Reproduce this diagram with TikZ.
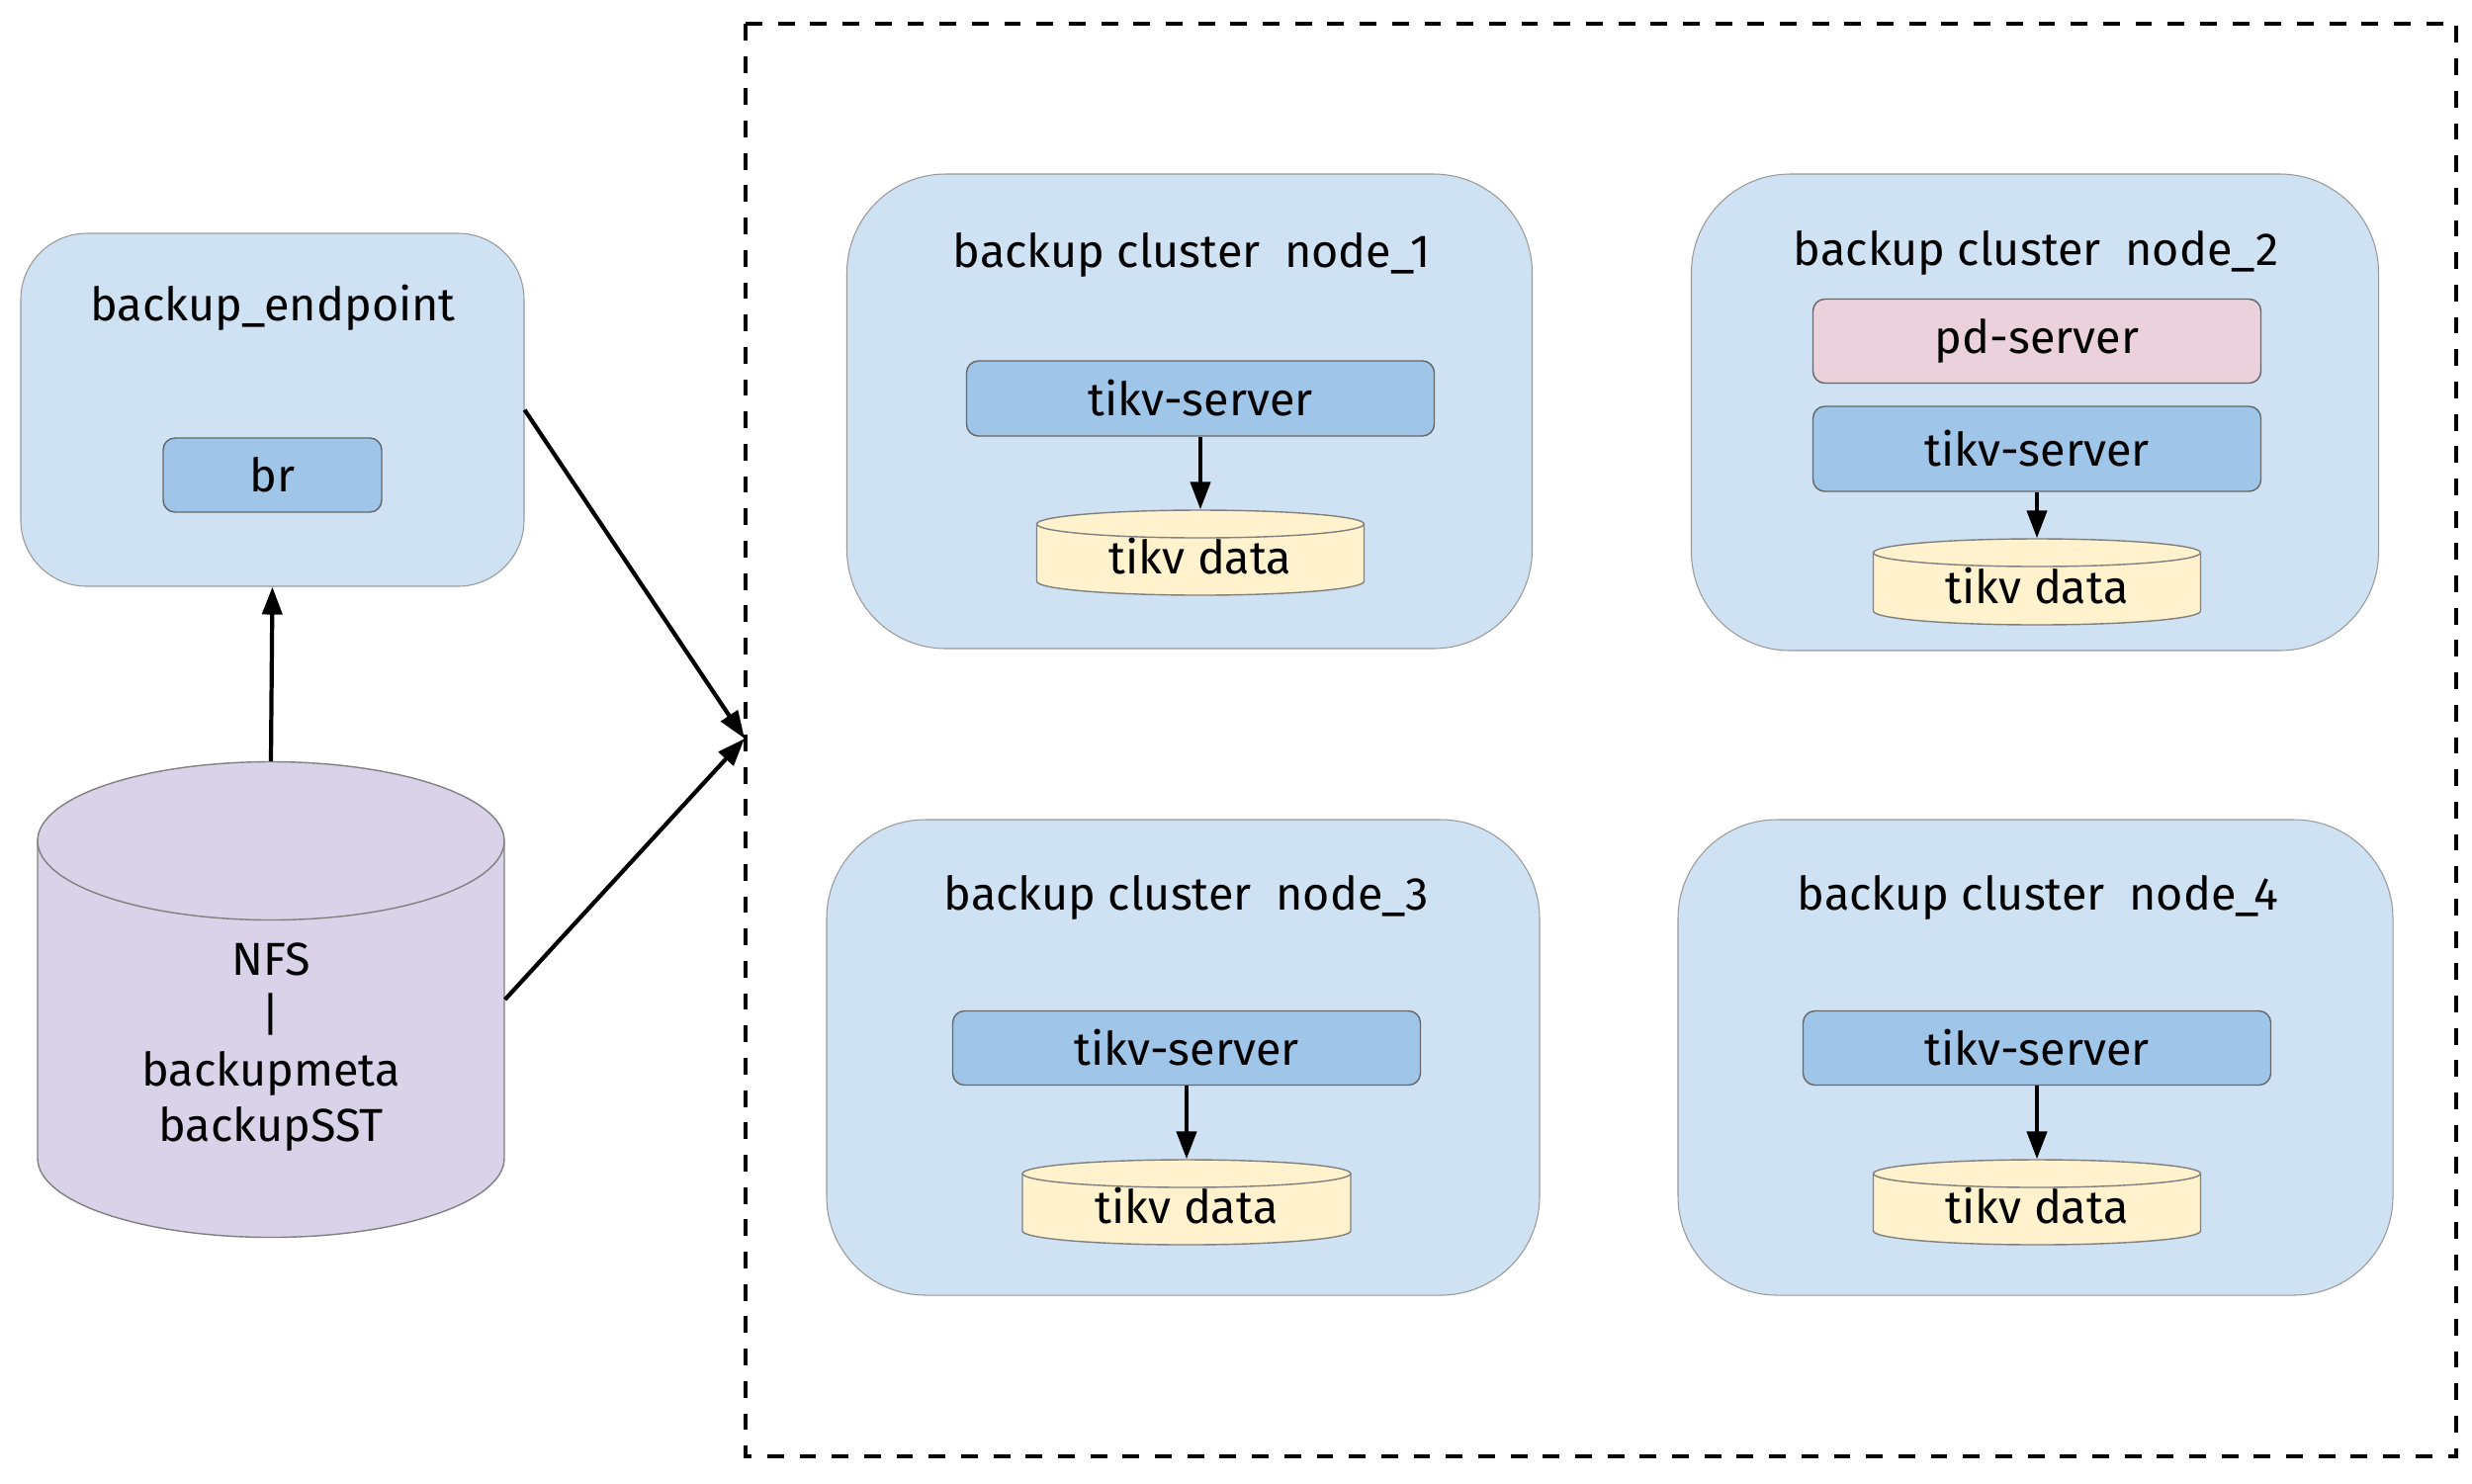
\documentclass[tikz,border=0pt]{standalone}
\usepackage{fontspec}
\setmainfont{Fira Sans}
\usetikzlibrary{arrows.meta}

\definecolor{hostfill}{HTML}{CFE2F3}
\definecolor{tikvfill}{HTML}{9FC5E8}
\definecolor{pdfill}{HTML}{EAD1DC}
\definecolor{datafill}{HTML}{FFF2CC}
\definecolor{nfsfill}{HTML}{D9D2E9}

\tikzset{
	hostbox/.style={draw=black!40, line width=0.3pt, fill=hostfill, rounded corners=1cm, inner sep=0pt},
	procbox/.style={draw=black!60, line width=0.4pt, rounded corners=0.12cm, inner sep=0pt, font=\fontsize{13.3}{16}\selectfont},
	caption/.style={inner sep=0pt, font=\fontsize{13.3}{16}\selectfont},
	flow/.style={-{Triangle[length=0.28cm, width=0.2cm]}, line width=1.2pt},
}

\begin{document}
\begin{tikzpicture}
		\newcommand\datadrum[9]{ %% 1: name, 2: x, 3: y, 4: width, 5: height, 6: ellipse radius, 7: colour, 8: text, 9: text drop
			\filldraw[fill=#7, draw=black!50, line width=0.4pt] ({#2-#4/2},{#3+#5/2-#6}) -- ({#2-#4/2},{#3-#5/2+#6})
				arc[start angle=180, end angle=360, x radius=#4/2, y radius=#6] -- ({#2+#4/2},{#3+#5/2-#6})
				arc[start angle=0, end angle=180, x radius=#4/2, y radius=#6] -- cycle;
			\draw[black!50, line width=0.4pt] ({#2-#4/2},{#3+#5/2-#6}) arc[start angle=180, end angle=360, x radius=#4/2, y radius=#6];
			\node[inner sep=0pt, minimum width=#4cm, minimum height=#5cm] (#1) at (#2,#3) {};
			\node[caption, align=center] (#1-txt) at (#2,{#3-#9}) {#8};
		}
		
		\path[use as bounding box] (0,0) rectangle (25,-15);
		
		\draw[line width=1.4pt, dash pattern=on 4.8pt off 4.5pt] (7.54,-0.24) rectangle (24.84,-14.73);
		
		%% left side
		\node[hostbox, rounded corners=0.67cm, minimum width=5.09cm, minimum height=3.57cm] (ep) at (2.755,-4.145) {};
		\node[caption] (ep-title) at (2.76,-3.11) {backup\_endpoint};
		\node[procbox, fill=tikvfill, minimum width=2.21cm, minimum height=0.75cm] (br) at (2.755,-4.805) {br};
		
		\datadrum{nfs}{2.74}{-10.11}{4.72}{4.81}{0.8}{nfsfill}{NFS\\|\\backupmeta\\backupSST}{0.48}
		
		%% backup cluster
		\node[hostbox, minimum width=6.93cm, minimum height=4.80cm] (host1) at (12.03,-4.16) {};
		\node[hostbox, minimum width=6.95cm, minimum height=4.82cm] (host2) at (20.58,-4.17) {};
		\node[hostbox, minimum width=7.21cm, minimum height=4.81cm] (host3) at (11.965,-10.695) {};
		\node[hostbox, minimum width=7.23cm, minimum height=4.81cm] (host4) at (20.585,-10.695) {};
		
		\node[caption] (title1) at (12.05,-2.58) {backup cluster\ \ node\_1};
		\node[caption] (title2) at (20.59,-2.56) {backup cluster\ \ node\_2};
		\node[caption] (title3) at (12.00,-9.08) {backup cluster\ \ node\_3};
		\node[caption] (title4) at (20.61,-9.08) {backup cluster\ \ node\_4};
		
		\node[procbox, fill=pdfill, minimum width=4.53cm, minimum height=0.85cm] (pd2) at (20.60,-3.45) {pd-server};
		
		\node[procbox, fill=tikvfill, minimum width=4.73cm, minimum height=0.76cm] (ts1) at (12.14,-4.03) {tikv-server};
		\node[procbox, fill=tikvfill, minimum width=4.53cm, minimum height=0.86cm] (ts2) at (20.60,-4.54) {tikv-server};
		\node[procbox, fill=tikvfill, minimum width=4.73cm, minimum height=0.75cm] (ts3) at (12.00,-10.60) {tikv-server};
		\node[procbox, fill=tikvfill, minimum width=4.73cm, minimum height=0.75cm] (ts4) at (20.60,-10.60) {tikv-server};
		
		\datadrum{td1}{12.14}{-5.59}{3.31}{0.86}{0.14}{datafill}{tikv data}{0.04}
		\datadrum{td2}{20.60}{-5.885}{3.31}{0.87}{0.14}{datafill}{tikv data}{0.04}
		\datadrum{td3}{12.00}{-12.16}{3.32}{0.86}{0.14}{datafill}{tikv data}{0.04}
		\datadrum{td4}{20.60}{-12.16}{3.31}{0.86}{0.14}{datafill}{tikv data}{0.04}
		
		\draw[flow] (ts1.south) -- (td1.north);
		\draw[flow] (ts2.south) -- (td2.north);
		\draw[flow] (ts3.south) -- (td3.north);
		\draw[flow] (ts4.south) -- (td4.north);
		
		%% into the cluster
		\coordinate (hub) at (7.53,-7.47);
		\draw[flow] (nfs.north) -- (ep.south);
		\draw[flow] (ep.east) -- (hub);
		\draw[flow] (nfs.east) -- (hub);
	\end{tikzpicture}
\end{document}
